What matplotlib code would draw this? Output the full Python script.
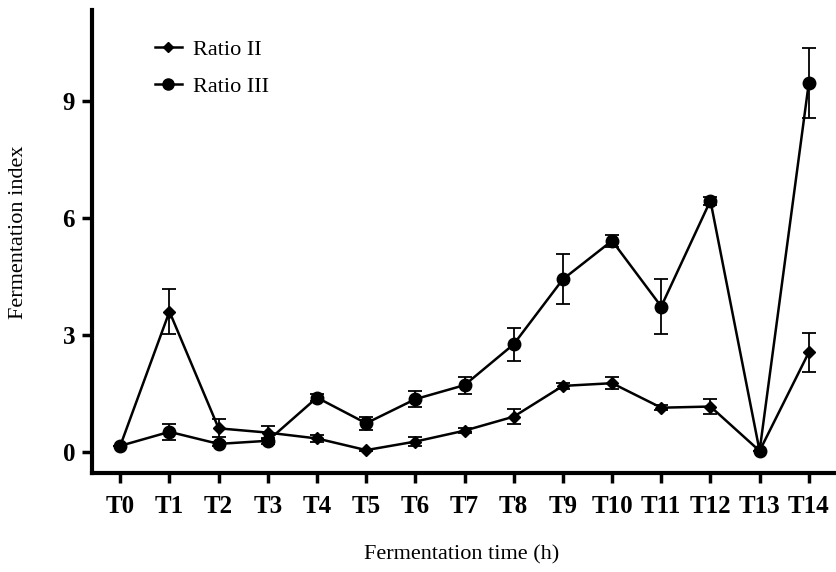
import numpy as np
import matplotlib.pyplot as plt
from matplotlib.lines import Line2D

plt.rcParams['font.family'] = ['Liberation Serif', 'DejaVu Serif']

times = ['T0', 'T1', 'T2', 'T3', 'T4', 'T5', 'T6', 'T7', 'T8', 'T9', 'T10', 'T11', 'T12', 'T13', 'T14']

ratio2 = [0.15, 3.6, 0.6, 0.49, 0.34, 0.04, 0.26, 0.54, 0.9, 1.69, 1.76, 1.13, 1.16, 0.02, 2.55]
ratio2_err = [0.0, 0.58, 0.23, 0.17, 0.09, 0.03, 0.12, 0.06, 0.2, 0.08, 0.15, 0.07, 0.2, 0.0, 0.5]

ratio3 = [0.15, 0.51, 0.2, 0.28, 1.39, 0.73, 1.35, 1.71, 2.76, 4.43, 5.42, 3.73, 6.45, 0.02, 9.47]
ratio3_err = [0.0, 0.2, 0.05, 0.08, 0.1, 0.16, 0.2, 0.22, 0.42, 0.64, 0.15, 0.7, 0.1, 0.0, 0.9]

x = np.arange(len(times))

fig = plt.figure(figsize=(8.37, 5.72), dpi=100)
ax = fig.add_axes([0.1096, 0.1736, 0.889, 0.809])

ax.errorbar(x, ratio2, yerr=ratio2_err, color='black', marker='D', markersize=6,
            linewidth=1.8, elinewidth=1.3, capsize=5, capthick=1.3)
ax.errorbar(x, ratio3, yerr=ratio3_err, color='black', marker='o', markersize=9,
            linewidth=1.8, elinewidth=1.3, capsize=5, capthick=1.3)

ax.set_xlim(-0.58, 14.55)
ax.set_ylim(-0.54, 11.35)
ax.set_xticks(x)
ax.set_xticklabels(times, fontsize=18, fontweight='bold')
ax.set_yticks([0, 3, 6, 9])
ax.set_yticklabels(['0', '3', '6', '9'], fontsize=18, fontweight='bold')

for s in ['top', 'right']:
    ax.spines[s].set_visible(False)
for s in ['left', 'bottom']:
    ax.spines[s].set_linewidth(3)
ax.tick_params(direction='out', length=7, width=2.5)
ax.tick_params(axis='x', pad=9)
ax.tick_params(axis='y', pad=5)

ax.set_xlabel('Fermentation time (h)', fontsize=16)
ax.xaxis.set_label_coords(0.497, -0.157)
ax.set_ylabel('Fermentation index', fontsize=16)
ax.yaxis.set_label_coords(-0.086, 0.52)

handles = [Line2D([], [], color='black', marker='D', markersize=5, linewidth=1.8),
           Line2D([], [], color='black', marker='o', markersize=8, linewidth=1.8)]
ax.legend(handles, ['Ratio II', 'Ratio III'], loc='upper left', bbox_to_anchor=(0.058, 0.98),
          frameon=False, fontsize=16, handlelength=1.2, handletextpad=0.5, labelspacing=0.75)

plt.savefig('out.png')
